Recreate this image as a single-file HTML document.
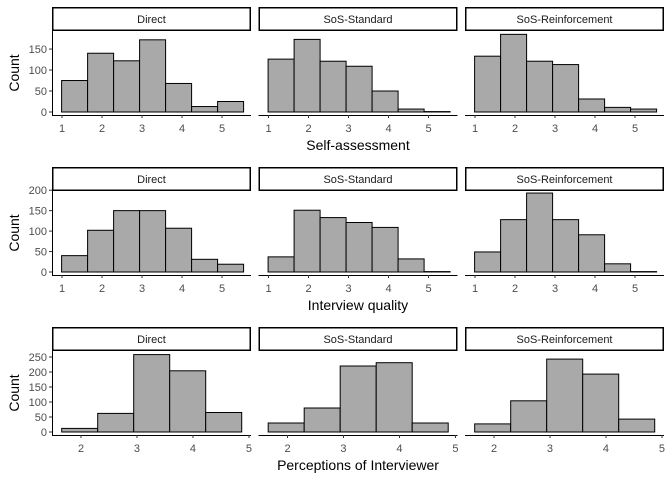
<!DOCTYPE html>
<html><head><meta charset="utf-8"><style>
html,body{margin:0;padding:0;background:#fff;}
svg{display:block;font-family:"Liberation Sans",Arial,sans-serif;}
</style></head><body>
<svg id="chart" width="672" height="480" xmlns="http://www.w3.org/2000/svg"></svg>
<script>
const rowTitles = ["Self-assessment", "Interview quality", "Perceptions of Interviewer"];
const panelNames = ["Direct", "SoS-Standard", "SoS-Reinforcement"];
const row1Counts = [[75,140,122,172,68,13,25],[126,173,121,109,50,7,1],[133,185,121,113,31,11,7]];
const row2Counts = [[40,102,150,150,107,31,19],[37,151,133,121,109,32,1],[49,128,193,128,91,20,1]];
const row3Counts = [[12,62,258,204,65],[30,80,220,231,30],[27,104,243,193,43]];
const row1XTicks = [1,2,3,4,5];
const row2XTicks = [1,2,3,4,5];
const row3XTicks = [2,3,4,5];
const row1YTicks = [0,50,100,150];
const row2YTicks = [0,50,100,150,200];
const row3YTicks = [0,50,100,150,200,250];

const rows = [
 {counts:row1Counts, xt:row1XTicks, yt:row1YTicks, xmin:0.75, xmax:5.725, binStart:0.99, binW:0.65, ymax:193, top:31, zero:112},
 {counts:row2Counts, xt:row2XTicks, yt:row2YTicks, xmin:0.75, xmax:5.725, binStart:0.99, binW:0.65, ymax:198, top:191, zero:272},
 {counts:row3Counts, xt:row3XTicks, yt:row3YTicks, xmin:1.482, xmax:5.036, binStart:1.655, binW:0.643, ymax:270, top:351, zero:432}
];
const panelX = [52, 258.5, 465];
const panelW = 199;
const NS = "http://www.w3.org/2000/svg";
const svg = document.getElementById("chart");
function mk(tag, attrs, parent){
  const e = document.createElementNS(NS, tag);
  for (const k in attrs) e.setAttribute(k, attrs[k]);
  (parent||svg).appendChild(e);
  return e;
}
rows.forEach((r, ri) => {
  const stripTop = r.top - 24;
  const axisY = r.top + 84;
  const yS = v => r.zero - v * (r.zero - r.top) / r.ymax;
  // y axis title
  const yt = mk("text", {x:0, y:0, "font-size":14, fill:"#000", "text-anchor":"middle", transform:`translate(19,${(r.top+axisY)/2}) rotate(-90)`});
  yt.textContent = "Count";
  
  
  // y ticks
  r.yt.forEach(t => {
    const y = yS(t);
    const tk = mk("line", {x1:49, x2:52, y1:y, y2:y, stroke:"#333", "stroke-width":1});
    
    
    const tl = mk("text", {x:47, y:y+4, "font-size":11, fill:"#4d4d4d", "text-anchor":"end"});
    tl.textContent = t;
    
    
  });
  const yl = mk("line", {x1:52.5, x2:52.5, y1:r.top, y2:axisY, stroke:"#000", "stroke-width":1});
  
  
  panelX.forEach((px, pi) => {
    const xS = v => px + (v - r.xmin) / (r.xmax - r.xmin) * panelW;
    const g = mk("g", {});
    
    
    const sb = mk("rect", {x:px+0.75, y:stripTop+0.75, width:panelW-1.5, height:22.5, fill:"#fff", stroke:"#000", "stroke-width":1.5}, g);
    
    
    const st = mk("text", {x:px+panelW/2, y:stripTop+16, "font-size":11, fill:"#1a1a1a", "text-anchor":"middle"}, g);
    st.textContent = panelNames[pi];
    
    
    r.counts[pi].forEach((c, bi) => {
      const x0 = xS(r.binStart + bi*r.binW), x1 = xS(r.binStart + (bi+1)*r.binW);
      const b = mk("rect", {x:x0, y:yS(c), width:x1-x0, height:Math.max(0, r.zero - yS(c)), fill:"#a9a9a9", stroke:"#000", "stroke-width":1}, g);
      
      
    });
    const xl = mk("line", {x1:px, x2:px+panelW, y1:axisY+0.5, y2:axisY+0.5, stroke:"#000", "stroke-width":1}, g);
    
    
    r.xt.forEach(t => {
      const x = xS(t);
      const tk = mk("line", {x1:x, x2:x, y1:axisY, y2:axisY+3, stroke:"#333", "stroke-width":1}, g);
      
      
      const tl = mk("text", {x:x, y:axisY+17, "font-size":11, fill:"#4d4d4d", "text-anchor":"middle"}, g);
      tl.textContent = t;
      
      
    });
  });
  const xt = mk("text", {x:358, y:axisY+35, "font-size":14, fill:"#000", "text-anchor":"middle"});
  xt.textContent = rowTitles[ri];
  
  
});
</script>
</body></html>
